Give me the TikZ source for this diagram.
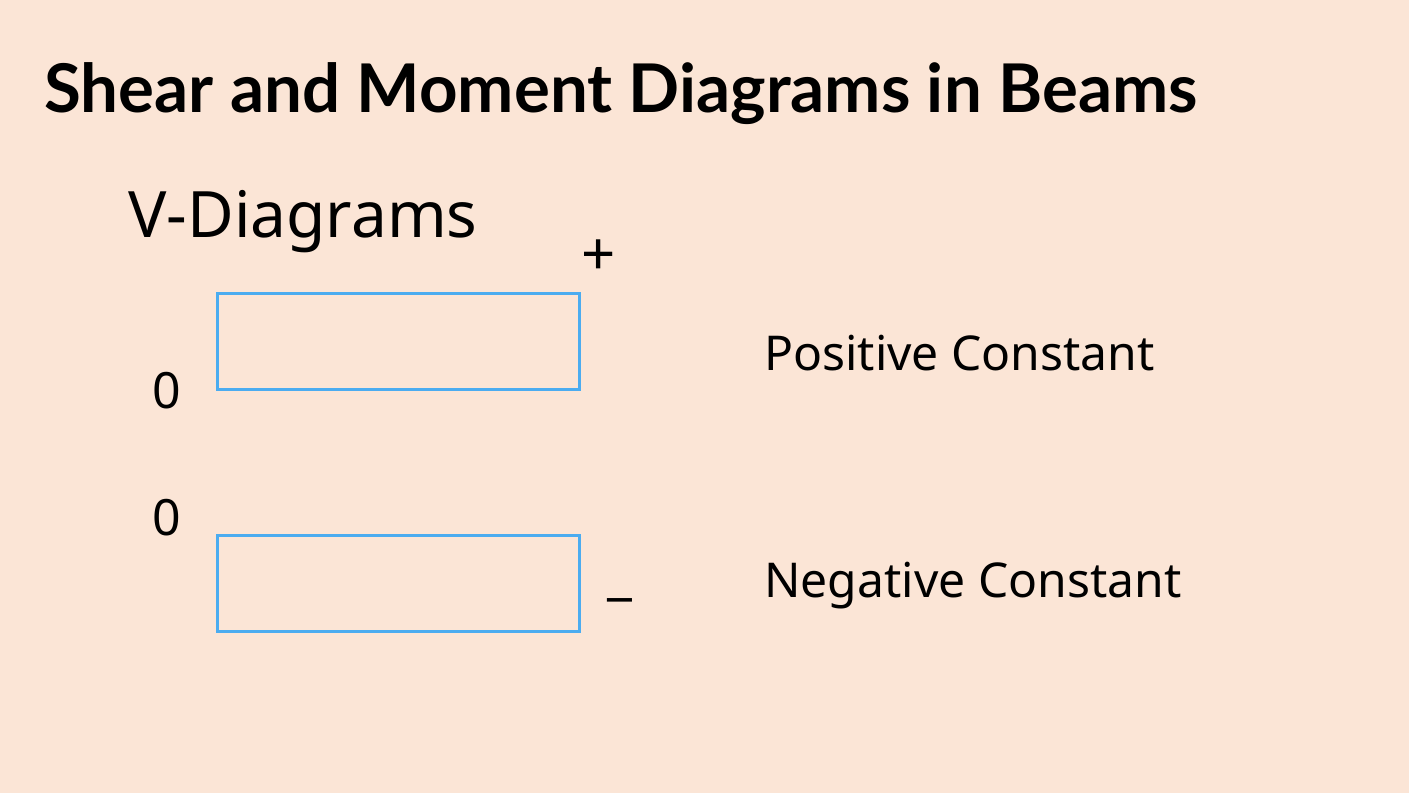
\documentclass[tikz,border=0pt]{standalone}
\usepackage{fontspec}
\setmainfont{Noto Sans}
\newfontfamily\titlefont{Lato}
\definecolor{bgpeach}{HTML}{FBE5D6}
\definecolor{boxblue}{HTML}{4BACF0}
\begin{document}
\begin{tikzpicture}[x=0.5pt,y=-0.5pt,
  lbl/.style={inner sep=0pt,anchor=base west,text=black},
  vbox/.style={draw=boxblue,line width=1.5pt,minimum width=362*0.5pt,minimum height=96*0.5pt,inner sep=0pt,anchor=north west}]
\fill[bgpeach] (0,0) rectangle (1409,793);
\useasboundingbox (0,0) rectangle (1409,793);
\node[lbl,font=\titlefont\fontsize{33.6}{40}\selectfont\bfseries] (title) at (44,112) {Shear and Moment Diagrams in Beams};
\node[lbl,font=\fontsize{32}{38}\selectfont] (vdiag) at (128,237) {V-Diagrams};
\node[vbox] (pbox) at (216,292) {};
\node[vbox] (nbox) at (216,534) {};
\node[lbl,font=\fontsize{30}{34}\selectfont] (plus) at (581,275) {+};
\node[lbl,font=\fontsize{25}{30}\selectfont] (zt) at (152,408) {0};
\node[lbl,font=\fontsize{25}{30}\selectfont] (zb) at (152,535) {0};
\node[lbl,font=\fontsize{28}{32}\selectfont] (minus) at (607,593) {\_};
\node[lbl,font=\fontsize{24}{30}\selectfont] (pos) at (764,370) {Positive Constant};
\node[lbl,font=\fontsize{24}{30}\selectfont] (neg) at (764,597) {Negative Constant};
\end{tikzpicture}
\end{document}
